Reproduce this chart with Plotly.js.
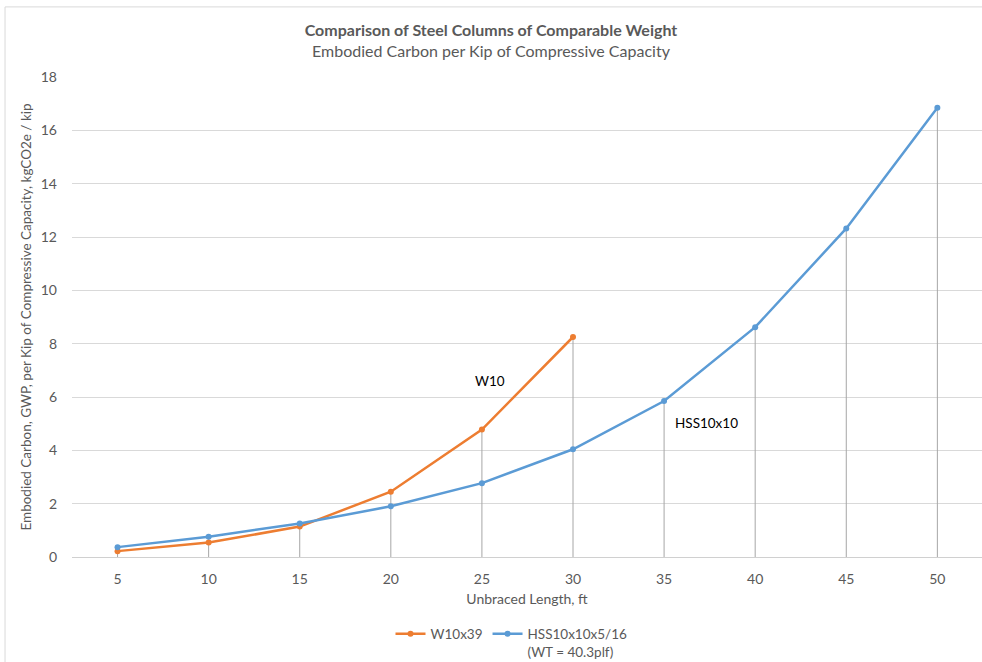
<!DOCTYPE html>
<html>
<head>
<meta charset="utf-8">
<script src="https://cdn.plot.ly/plotly-3.0.1.min.js"></script>
<style>html,body{margin:0;padding:0;background:#fff;}#chart{width:982px;height:662px;}</style>
</head>
<body>
<div id="chart"></div>
<script>
const lengthsW = [5, 10, 15, 20, 25, 30];
const w10x39 = [0.22, 0.54, 1.14, 2.45, 4.78, 8.25];
const lengthsHSS = [5, 10, 15, 20, 25, 30, 35, 40, 45, 50];
const hss10x10 = [0.37, 0.76, 1.26, 1.90, 2.77, 4.04, 5.85, 8.62, 12.32, 16.85];
const xTicks = [5, 10, 15, 20, 25, 30, 35, 40, 45, 50];

// drop lines from highest point at each length down to the axis
const dropX = [], dropY = [];
lengthsHSS.forEach((x, i) => {
  let top = hss10x10[i];
  const j = lengthsW.indexOf(x);
  if (j >= 0) top = Math.max(top, w10x39[j]);
  dropX.push(x, x, null);
  dropY.push(0, top, null);
});

const font = "Lato, 'Open Sans', sans-serif";
const grey = '#595959';

const traces = [
  {x: dropX, y: dropY, mode: 'lines', line: {color: '#a6a6a6', width: 1},
   showlegend: false, hoverinfo: 'skip'},
  {x: lengthsW, y: w10x39, name: 'W10x39', mode: 'lines+markers',
   line: {color: '#ED7D31', width: 2.5}, marker: {color: '#ED7D31', size: 6}},
  {x: lengthsHSS, y: hss10x10, name: 'HSS10x10x5/16<br>(WT = 40.3plf)', mode: 'lines+markers',
   line: {color: '#5B9BD5', width: 2.5}, marker: {color: '#5B9BD5', size: 6}}
];

const layout = {
  width: 982, height: 662,
  margin: {l: 72, r: 0, t: 77, b: 105, autoexpand: false},
  paper_bgcolor: '#fff', plot_bgcolor: '#fff',
  font: {family: font, color: grey, size: 13},
  title: {
    text: '<b>Comparison of Steel Columns of Comparable Weight</b><br>Embodied Carbon per Kip of Compressive Capacity',
    font: {family: font, size: 16, color: grey},
    x: 0.5, xanchor: 'center', y: 0.946, yanchor: 'top'
  },
  xaxis: {
    range: [2.5, 52.45], tickvals: xTicks, ticktext: xTicks.map(String), automargin: false,
    showgrid: false, zeroline: false, showline: false, ticks: '',
    tickfont: {size: 14, color: grey}, ticklabelstandoff: 12,
    title: {text: 'Unbraced Length, ft', font: {size: 14, color: grey}, standoff: 8}
  },
  yaxis: {
    range: [0, 18], dtick: 2, showgrid: true, gridcolor: '#d9d9d9', gridwidth: 1, automargin: false,
    zeroline: true, zerolinecolor: '#d0d0d0', zerolinewidth: 1,
    showline: false, ticks: '', tickfont: {size: 14, color: grey}, ticklabelstandoff: 14,
    title: {text: 'Embodied Carbon, GWP, per Kip of Compressive Capacity, kgCO2e / kip',
            font: {size: 13.5, color: grey}, standoff: 6}
  },
  legend: {orientation: 'h', x: 0.35, xanchor: 'left', y: -0.128, yanchor: 'top',
           font: {size: 13.5, color: grey}, valign: 'top', itemwidth: 30, tracegroupgap: 0},
  annotations: [
    {x: 25.45, y: 6.6, text: 'W10', showarrow: false, font: {size: 13.5, color: '#000'}},
    {x: 37.35, y: 5.02, text: 'HSS10x10', showarrow: false, font: {size: 13.5, color: '#000'}}
  ],
  shapes: [
    {type: 'rect', xref: 'paper', yref: 'paper', x0: -0.0736, x1: 1.2, y0: -0.5, y1: 1.146,
     line: {color: '#d9d9d9', width: 1}, fillcolor: 'rgba(0,0,0,0)', layer: 'below'}
  ]
};

Plotly.newPlot('chart', traces, layout, {displayModeBar: false, staticPlot: true});
</script>
</body>
</html>
